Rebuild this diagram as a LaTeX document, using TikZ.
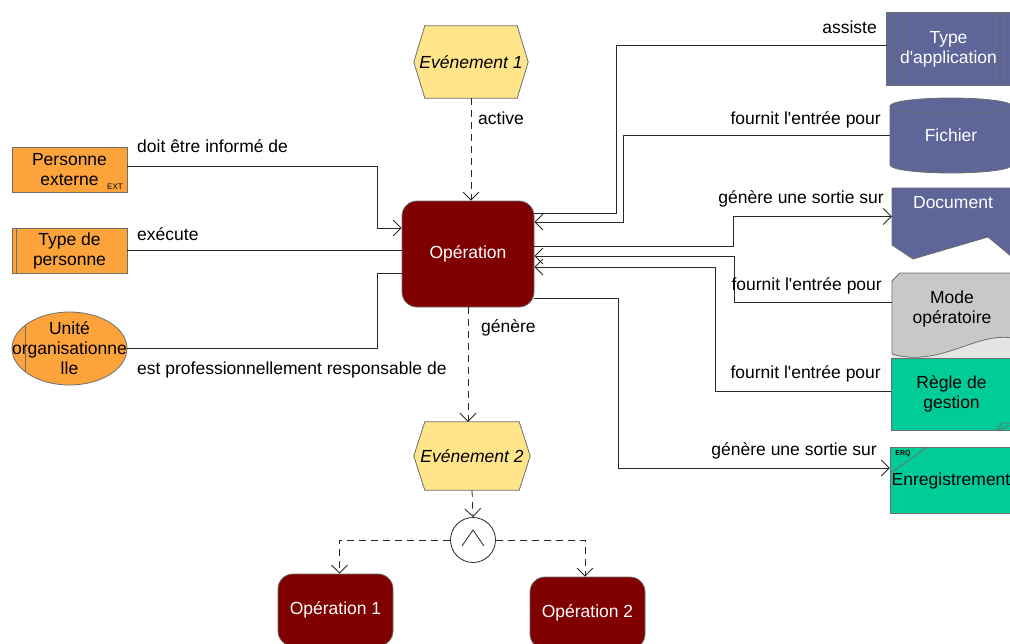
\documentclass[tikz,border=0pt]{standalone}
\usepackage{fontspec}
\setmainfont{Liberation Sans}
\usetikzlibrary{arrows.meta,calc}
\definecolor{cOrange}{RGB}{252,163,60}
\definecolor{cOpRed}{RGB}{128,0,0}
\definecolor{cYellow}{RGB}{255,228,138}
\definecolor{cBlue}{RGB}{94,102,153}
\definecolor{cGreen}{RGB}{0,204,153}
\definecolor{cGray}{RGB}{200,200,200}
\definecolor{cLight}{RGB}{228,228,228}
\definecolor{cBorder}{RGB}{110,110,110}
\definecolor{cLine}{RGB}{40,40,40}
\pgfdeclarelayer{bg}
\pgfsetlayers{bg,main}
\begin{document}
\begin{tikzpicture}[x=1pt,y=-1pt, font=\fontsize{17.5}{20}\selectfont,
  box/.style={draw=cBorder, line width=0.8pt, inner sep=0pt, align=center},
  personbox/.style={box, fill=cOrange, minimum width=115pt, minimum height=45pt},
  opbox/.style={box, fill=cOpRed, rounded corners=15pt, text=white},
  shapeonly/.style={draw=cBorder, line width=0.8pt},
  holder/.style={inner sep=0pt, align=center},
  evtext/.style={holder, font=\fontsize{17.5}{20}\selectfont\itshape},
  conn/.style={draw=cLine, line width=0.8pt},
  arr/.style={-{Straight Barb[length=8pt,width=16pt]}},
  flow/.style={conn, dash pattern=on 7pt off 5pt},
  lab/.style={inner sep=0pt, text height=12.5pt, text depth=0pt},
]
\useasboundingbox (0,0) rectangle (1010,643);

% ---------- left nodes ----------
\node[personbox] (pe) at (69.5,169.5) {Personne\\externe};
\node[inner sep=0pt, font=\fontsize{8}{9}\selectfont] (peext) at (115,187) {EXT};
\node[personbox] (tp) at (69.5,250.5) {Type de\\personne};
\draw[shapeonly] ([xshift=5pt]tp.north west) -- ([xshift=5pt]tp.south west);
\node[holder, minimum width=115pt, minimum height=73pt] (ou) at (69.5,348.5) {Unité\\organisationne\\lle};

% ---------- centre ----------
\node[opbox, minimum width=132pt, minimum height=106pt] (op) at (468,254) {Opération};
\node[evtext, minimum width=114pt, minimum height=72pt] (ev1) at (471,62) {Evénement 1};
\node[evtext, minimum width=116pt, minimum height=68pt] (ev2) at (472,456) {Evénement 2};
\node[draw=cLine, circle, minimum size=45pt, inner sep=0pt, fill=white, line width=0.8pt] (gate) at (473,540) {};
\draw[conn] ([xshift=-11pt,yshift=-6pt]gate.center) -- ([yshift=10pt]gate.center) -- ([xshift=11pt,yshift=-6pt]gate.center);
\node[opbox, minimum width=115pt, minimum height=72pt] (o1) at (335.5,610) {Opération 1};
\node[opbox, minimum width=115pt, minimum height=72pt] (o2) at (587.5,613) {Opération 2};

% ---------- right nodes ----------
\node[holder, text=white, minimum width=123pt, minimum height=72pt] (ta) at (948.5,49) {Type\\d\textquotesingle application};
\node[holder, text=white, minimum width=122pt, minimum height=75pt] (fi) at (951,135.5) {Fichier};
\node[holder, minimum width=120pt, minimum height=57pt] (doc) at (952,216.5) {};
\node[holder, text=white] (doctext) at (953,203) {Document};
\node[holder, minimum width=120pt, minimum height=72pt] (mo) at (952,309) {Mode\\opératoire};
\node[holder, minimum width=121pt, minimum height=72pt] (rg) at (951.5,394) {Règle de\\gestion};
\node[holder, minimum width=122pt, minimum height=66pt] (en) at (951,481) {Enregistrement};
\node[inner sep=0pt, font=\fontsize{7}{8}\selectfont\bfseries] (erq) at (903,454) {ERQ};

% ---------- shapes behind ----------
\begin{pgfonlayer}{bg}
  \filldraw[shapeonly, fill=cOrange] (ou.center) ellipse [x radius=57.5pt, y radius=36.5pt];
  \draw[shapeonly] (25,325.4) -- (25,371.6);
  \filldraw[shapeonly, fill=cYellow] (ev1.west) -- ([xshift=11pt]ev1.north west) -- ([xshift=-11pt]ev1.north east) -- (ev1.east) -- ([xshift=-11pt]ev1.south east) -- ([xshift=11pt]ev1.south west) -- cycle;
  \filldraw[shapeonly, fill=cYellow] (ev2.west) -- ([xshift=11pt]ev2.north west) -- ([xshift=-11pt]ev2.north east) -- (ev2.east) -- ([xshift=-11pt]ev2.south east) -- ([xshift=11pt]ev2.south west) -- cycle;
  % Type d'application
  \filldraw[shapeonly, fill=cBlue] (ta.north west) rectangle (ta.south east);
  \draw[shapeonly] (894,13) -- (894,85) (902,13) -- (902,85) (996,13) -- (996,85) (1003,13) -- (1003,85);
  % Fichier (cylinder)
  \filldraw[shapeonly, fill=cBlue] (890,106) -- (890,165) arc[start angle=180, end angle=360, x radius=61pt, y radius=8pt] -- (1012,106) arc[start angle=0, end angle=180, x radius=61pt, y radius=8pt] -- cycle;
  \draw[shapeonly] (890,106) arc[start angle=180, end angle=360, x radius=61pt, y radius=8pt];
  % Document
  \filldraw[shapeonly, fill=cBlue] (892,188) -- (1012,188) -- (1012,257) -- (988,237) -- (913,259) -- (892,245) -- cycle;
  % Mode operatoire
  \fill[cLight] (892,338) rectangle (1012,362);
  \filldraw[shapeonly, fill=cGray] (892,281) -- (900,273) -- (1012,273) -- (1012,338) .. controls (975,332) and (940,368) .. (892,354) -- cycle;
  % Regle de gestion
  \filldraw[shapeonly, fill=cGreen] (891,358) rectangle (1012,430);
  \draw[shapeonly] (997,430) -- (1002,423) -- (1012,423) (997,430) -- (1012,425);
  % Enregistrement
  \filldraw[shapeonly, fill=cGreen] (890,447) rectangle (1012,513);
  \draw[shapeonly] (890,473) -- (928,447);
\end{pgfonlayer}

% ---------- connection points ----------
\coordinate (opL1) at ([yshift=26pt]op.west);
\coordinate (opL3) at ([yshift=-19pt]op.west);
\coordinate (opR1) at ([yshift=41pt]op.east);
\coordinate (opR2) at ([yshift=32pt]op.east);
\coordinate (opR3) at ([yshift=8pt]op.east);
\coordinate (opR4) at ([yshift=-2pt]op.east);
\coordinate (opR5) at ([yshift=-13pt]op.east);
\coordinate (opR6) at ([yshift=-44pt]op.east);
\coordinate (pe1) at ([yshift=3.5pt]pe.east);
\coordinate (ta1) at ([yshift=4pt]ta.west);
\coordinate (mo1) at ([yshift=7pt]mo.west);
\coordinate (rg1) at ([yshift=3pt]rg.west);
\coordinate (en1) at ([yshift=13pt]en.west);
\coordinate (xl) at (377,0);
\coordinate (c1) at (616,0);
\coordinate (c2) at (623,0);
\coordinate (c3) at (733,0);
\coordinate (c4) at (734,0);
\coordinate (c5) at (715,0);
\coordinate (c6) at (618,0);

% ---------- connectors ----------
\draw[conn,arr] (pe1) -| (xl |- opL1) -- (opL1);
\draw[conn] (tp.east) -- (tp.east -| op.west);
\draw[conn] (ou.east) -| (xl |- opL3) -- (opL3);

\draw[conn] (opR1) -| (c1 |- ta1) -- (ta1);
\draw[conn,arr] (fi.west) -| (c2 |- opR2) -- (opR2);
\draw[conn,arr] (opR3) -| (c3 |- doc.west) -- (doc.west);
\draw[conn,arr] (mo1) -| (c4 |- opR4) -- (opR4);
\draw[conn,arr] (rg1) -| (c5 |- opR5) -- (opR5);
\draw[conn,arr] (opR6) -| (c6 |- en1) -- (en1);

\draw[flow,arr] (ev1.south) -- (ev1.south |- op.north);
\draw[flow,arr] (op.south) -- (op.south |- ev2.north);
\draw[flow,arr] (ev2.south) -- (gate.north);
\draw[flow,arr] (gate.west) -| ([xshift=4pt]o1.north);
\draw[flow,arr] (gate.east) -| ([xshift=-2.5pt]o2.north);

% ---------- labels ----------
\node[lab, anchor=west] (l1) at (137,146) {doit être informé de};
\node[lab, anchor=west] (l2) at (137,234) {exécute};
\node[lab, anchor=west] (l3) at (137,368) {est professionnellement responsable de};
\node[lab, anchor=west] (l4) at (478,118) {active};
\node[lab, anchor=west] (l5) at (481,326) {génère};
\node[lab, anchor=east] (l6) at (877,27) {assiste};
\node[lab, anchor=east] (l7) at (881,118) {fournit l\textquotesingle entrée pour};
\node[lab, anchor=east] (l8) at (884,197) {génère une sortie sur};
\node[lab, anchor=east] (l9) at (882,284) {fournit l\textquotesingle entrée pour};
\node[lab, anchor=east] (l10) at (881,372) {fournit l\textquotesingle entrée pour};
\node[lab, anchor=east] (l11) at (877,449) {génère une sortie sur};
\end{tikzpicture}
\end{document}
